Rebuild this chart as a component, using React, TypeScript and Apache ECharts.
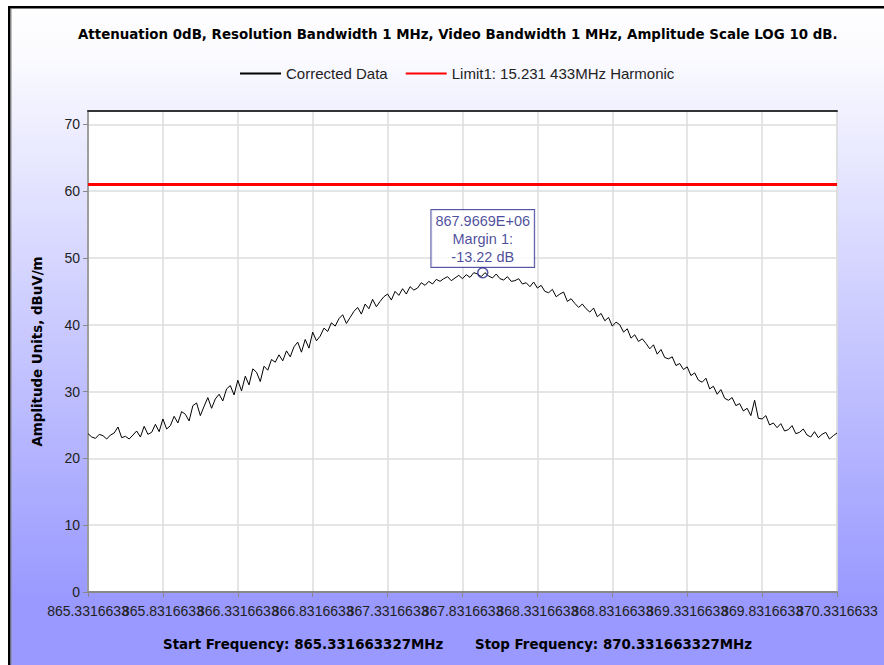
import React, { useEffect, useRef } from "react";
import * as echarts from "echarts";

// ---- data ----
const START_FREQ = 865.3316633; // MHz
const STOP_FREQ = 870.3316633; // MHz
const STEP = 0.025; // MHz between samples
const X_TICK_STEP = 0.5; // MHz between frequency ticks
const AMPLITUDE: number[] = [
  23.7, 23.2, 23.0, 23.6,
  23.4, 22.9, 23.5, 23.8,
  24.7, 23.1, 23.3, 22.9,
  23.5, 24.1, 23.2, 24.8,
  23.6, 23.9, 25.1, 24.0,
  25.9, 24.4, 24.9, 26.3,
  25.3, 27.0, 26.6, 25.6,
  27.9, 28.3, 26.4, 27.8,
  29.1, 27.5, 28.9, 29.6,
  28.6, 30.4, 30.9, 29.5,
  31.7, 30.1, 32.3, 31.0,
  33.4, 32.9, 31.5, 33.8,
  33.2, 34.8, 34.4, 35.5,
  34.6, 36.1, 35.2, 36.7,
  37.4, 35.9, 37.8, 36.5,
  38.9, 37.6, 38.3, 39.5,
  39.0, 40.3, 39.8, 40.9,
  41.5, 40.2, 41.1, 42.0,
  42.6, 41.6, 43.1, 42.4,
  43.8, 42.7, 43.5, 44.2,
  44.6, 43.7, 45.0, 44.4,
  45.4, 44.6, 45.7, 45.2,
  45.5, 46.3, 45.9, 46.5,
  46.1, 46.8, 46.5, 46.9,
  47.2, 46.6, 47.0, 47.4,
  46.9, 47.5, 47.1, 47.8,
  47.6, 47.2, 47.8, 47.3,
  47.0, 47.6, 46.9, 46.7,
  47.2, 46.5, 46.6, 46.9,
  46.1, 46.3, 45.7, 46.4,
  45.5, 45.9, 45.0, 44.8,
  45.3, 44.2, 44.6, 44.9,
  43.5, 43.9, 43.2, 42.6,
  43.1, 42.4, 41.9, 42.5,
  41.2, 41.7, 40.6, 41.1,
  39.8, 40.4, 40.0, 38.9,
  39.4, 38.0, 38.5, 37.5,
  37.9, 37.2, 36.4, 37.0,
  35.6, 36.3, 35.1, 34.9,
  35.2, 33.9, 34.2, 33.3,
  33.7, 32.4, 32.8, 31.7,
  31.4, 32.0, 30.4, 30.8,
  29.6, 30.3, 29.0, 28.7,
  29.1, 27.9, 28.2, 27.1,
  27.5, 26.4, 28.7, 26.0,
  25.9, 26.4, 25.0, 25.3,
  24.6, 25.2, 24.1, 24.3,
  24.9, 23.7, 23.9, 24.4,
  23.5, 23.2, 24.0, 23.1,
  23.6, 23.9, 22.9, 23.4,
  23.8,
];
const LIMIT_VALUE = 61.0;
const MARKER_FREQ = 867.9669; // MHz
const MARKER_VALUE = 47.78;
const MARKER_MARGIN = -13.22;
const SERIES_NAMES = ["Corrected Data", "Limit1: 15.231 433MHz Harmonic"];
const TITLE_TEXT =
  "Attenuation 0dB, Resolution Bandwidth 1 MHz, Video Bandwidth 1 MHz, Amplitude Scale LOG 10 dB.";
const START_TEXT = "Start Frequency: 865.331663327MHz";
const STOP_TEXT = "Stop Frequency: 870.331663327MHz";
const Y_AXIS_NAME = "Amplitude Units, dBuV/m";

const SPAN = STOP_FREQ - START_FREQ;

const BOLD_TEXT = { fontFamily: "DejaVu Sans", fontWeight: "bold", fontSize: 13.4, color: "#000" };
const TICK_FONT = { fontFamily: "Liberation Sans", fontSize: 14, color: "#222" };

// whole-MHz offsets (0, 1, 2, ...) vs half-MHz offsets (0.5, 1.5, ...)
const isWholeStep = (v: number) => Math.abs(v / (2 * X_TICK_STEP) - Math.round(v / (2 * X_TICK_STEP))) < 1e-6;
const freqLabel = (v: number) => (START_FREQ + v).toFixed(7);

export default function App() {
  const ref = useRef<HTMLDivElement>(null);
  useEffect(() => {
    if (!ref.current) return;
    const chart = echarts.init(ref.current, null, { renderer: "svg" });
    const traceData = AMPLITUDE.map((v, i) => [i * STEP, v]);
    const option: any = {
      animation: false,
      backgroundColor: new echarts.graphic.LinearGradient(0, 0, 0, 1, [
        { offset: 0, color: "#ffffff" },
        { offset: 0.08, color: "#fbfbff" },
        { offset: 0.9, color: "#9999ff" },
        { offset: 1, color: "#9999ff" },
      ]),
      title: [
        { text: TITLE_TEXT, left: 78, top: 28, padding: 0, textStyle: BOLD_TEXT },
        { text: START_TEXT, left: 163, top: 638, padding: 0, textStyle: BOLD_TEXT },
        { text: STOP_TEXT, left: 475, top: 638, padding: 0, textStyle: BOLD_TEXT },
      ],
      legend: {
        data: SERIES_NAMES,
        left: 234,
        top: 61,
        itemWidth: 41,
        itemHeight: 14,
        itemGap: 17,
        itemStyle: { opacity: 0 },
        textStyle: { fontFamily: "Liberation Sans", fontSize: 15, color: "#222" },
      },
      grid: {
        left: 88,
        right: 47,
        top: 111,
        bottom: 73,
        show: true,
        backgroundColor: "#ffffff",
        borderColor: "#d8d8d8",
        borderWidth: 1,
      },
      xAxis: [
        {
          type: "value",
          min: 0,
          max: SPAN,
          interval: X_TICK_STEP,
          axisLine: { show: true, lineStyle: { color: "#888", width: 2 } },
          axisTick: { show: true, length: 5, lineStyle: { color: "#888" } },
          axisLabel: {
            margin: 12,
            showMinLabel: true,
            showMaxLabel: true,
            ...TICK_FONT,
            formatter: (v: number) => (isWholeStep(v) ? freqLabel(v) : ""),
          },
          splitLine: { show: true, lineStyle: { color: "#dcdcdc", width: 1.5 } },
        },
        {
          type: "value",
          position: "top",
          min: 0,
          max: SPAN,
          axisLine: { show: true, onZero: false, lineStyle: { color: "#333", width: 2 } },
          axisTick: { show: false },
          axisLabel: { show: false },
          splitLine: { show: false },
        },
        {
          type: "value",
          position: "bottom",
          min: 0,
          max: SPAN,
          interval: X_TICK_STEP,
          axisLine: { show: false },
          axisTick: { show: false },
          splitLine: { show: false },
          axisLabel: {
            margin: 12,
            showMinLabel: false,
            showMaxLabel: false,
            ...TICK_FONT,
            formatter: (v: number) => (isWholeStep(v) ? "" : freqLabel(v)),
          },
        },
      ],
      yAxis: {
        type: "value",
        min: 0,
        max: 72,
        interval: 10,
        name: Y_AXIS_NAME,
        nameLocation: "middle",
        nameGap: 44,
        nameTextStyle: BOLD_TEXT,
        axisLine: { show: true, lineStyle: { color: "#888", width: 1.5 } },
        axisTick: { show: true, length: 5, lineStyle: { color: "#888" } },
        axisLabel: { margin: 8, ...TICK_FONT },
        splitLine: { show: true, lineStyle: { color: "#dcdcdc", width: 1.5 } },
      },
      series: [
        {
          name: SERIES_NAMES[0],
          type: "line",
          data: traceData,
          symbol: "none",
          color: "#000",
          lineStyle: { color: "#000", width: 1 },
          z: 3,
        },
        {
          name: SERIES_NAMES[1],
          type: "line",
          data: [
            [0, LIMIT_VALUE],
            [SPAN, LIMIT_VALUE],
          ],
          symbol: "none",
          color: "#ff0000",
          lineStyle: { color: "#ff0000", width: 3 },
          z: 4,
        },
        {
          name: "marker",
          type: "scatter",
          data: [[MARKER_FREQ - START_FREQ, MARKER_VALUE]],
          symbol: "circle",
          symbolSize: 10,
          itemStyle: { color: "rgba(255,255,255,0)", borderColor: "#2a2a90", borderWidth: 1.5 },
          label: {
            show: true,
            position: "top",
            distance: 0,
            formatter: () =>
              `${MARKER_FREQ.toFixed(4)}E+06\nMargin 1:\n${MARKER_MARGIN.toFixed(2)} dB`,
            fontFamily: "Liberation Sans",
            fontSize: 14.5,
            lineHeight: 18,
            color: "#1c1c84",
            backgroundColor: "#ffffff",
            borderColor: "#2a2a90",
            borderWidth: 1,
            padding: [2, 4, 1, 4],
            align: "center",
          },
          z: 5,
        },
      ],
      graphic: [
        { type: "rect", shape: { x: 0, y: 0, width: 8, height: 665 }, style: { fill: "#ffffff" }, silent: true },
        { type: "rect", shape: { x: 0, y: 0, width: 884, height: 6 }, style: { fill: "#ffffff" }, silent: true },
        { type: "rect", shape: { x: 8, y: 6, width: 2.5, height: 659 }, style: { fill: "#000000" }, silent: true },
        { type: "rect", shape: { x: 8, y: 6, width: 876, height: 2.5 }, style: { fill: "#000000" }, silent: true },
        { type: "rect", shape: { x: 10.5, y: 8.5, width: 1, height: 656 }, style: { fill: "#888888" }, silent: true },
      ],
    };
    chart.setOption(option);
    return () => chart.dispose();
  }, []);
  return (
    <div
      ref={ref}
      style={{ position: "fixed", left: 0, top: 0, width: 884, height: 665 }}
    />
  );
}
